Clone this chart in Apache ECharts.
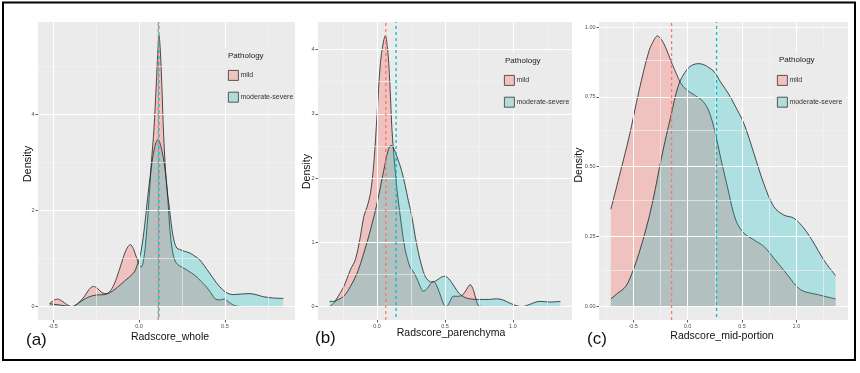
<!DOCTYPE html>
<html><head><meta charset="utf-8">
<script src="https://cdn.jsdelivr.net/npm/echarts@6/dist/echarts.min.js"></script>
<style>html,body{margin:0;padding:0;background:#fff}#c{width:860px;height:373px}</style>
</head><body><div id="c"></div>
<script>
// ---------- data ----------
const groupNames = ['mild', 'moderate-severe'];
const panelLetters = ['(a)', '(b)', '(c)'];
const xTitles = ['Radscore_whole', 'Radscore_parenchyma', 'Radscore_mid-portion'];

// (a) Radscore_whole
const aMild = [[-0.52,0.06],[-0.50,0.12],[-0.475,0.155],[-0.45,0.12],[-0.42,0.04],[-0.39,0.0],[-0.36,0.05],[-0.32,0.2],[-0.29,0.36],[-0.265,0.42],[-0.24,0.37],[-0.215,0.29],[-0.19,0.27],[-0.16,0.36],[-0.13,0.6],[-0.10,0.93],[-0.075,1.18],[-0.05,1.29],[-0.03,1.18],[-0.01,0.97],[0.012,0.82],[0.03,1.05],[0.045,1.6],[0.058,2.23],[0.072,3.0],[0.087,3.7],[0.10,4.6],[0.11,5.35],[0.116,5.65],[0.123,5.4],[0.133,4.6],[0.143,3.6],[0.155,2.8],[0.168,2.23],[0.18,1.6],[0.195,1.15],[0.21,0.95],[0.226,0.875],[0.25,0.82],[0.275,0.77],[0.305,0.70],[0.332,0.63],[0.36,0.53],[0.39,0.42],[0.42,0.28],[0.448,0.15],[0.475,0.14],[0.497,0.16],[0.52,0.1],[0.545,0.04],[0.565,0.01],[0.6,0],[0.7,0],[0.84,0]];
const aTeal = [[-0.52,0.06],[-0.50,0.05],[-0.46,0.03],[-0.42,0.01],[-0.39,0.0],[-0.35,0.08],[-0.30,0.19],[-0.25,0.24],[-0.20,0.25],[-0.17,0.29],[-0.14,0.36],[-0.11,0.45],[-0.085,0.53],[-0.055,0.62],[-0.027,0.72],[-0.012,0.85],[0.0,0.98],[0.012,1.15],[0.03,1.6],[0.049,2.23],[0.07,2.85],[0.09,3.3],[0.11,3.48],[0.13,3.3],[0.15,2.9],[0.168,2.3],[0.178,2.02],[0.192,1.6],[0.207,1.33],[0.22,1.22],[0.236,1.19],[0.265,1.15],[0.294,1.12],[0.325,1.05],[0.352,0.98],[0.38,0.85],[0.41,0.70],[0.45,0.5],[0.487,0.35],[0.515,0.28],[0.545,0.25],[0.59,0.26],[0.641,0.27],[0.68,0.25],[0.718,0.21],[0.776,0.18],[0.84,0.17]];
const aMeans = [0.112, 0.116];
const aXTicks = [-0.5, 0, 0.5], aXMinor = [-0.25, 0.25, 0.75];
const aYTicks = [0, 2, 4], aYMinor = [1, 3, 5];

// (b) Radscore_parenchyma
const bMild = [[-0.35,0.0],[-0.32,0.05],[-0.295,0.13],[-0.245,0.31],[-0.197,0.57],[-0.16,0.73],[-0.123,1.09],[-0.098,1.40],[-0.074,1.55],[-0.049,1.76],[-0.024,2.23],[0.0,3.0],[0.024,3.78],[0.045,4.1],[0.061,4.22],[0.075,4.05],[0.086,3.78],[0.1,3.2],[0.11,2.74],[0.128,2.25],[0.147,1.81],[0.165,1.5],[0.184,1.19],[0.205,0.9],[0.225,0.73],[0.245,0.6],[0.265,0.55],[0.29,0.45],[0.31,0.35],[0.34,0.24],[0.37,0.28],[0.395,0.36],[0.415,0.39],[0.44,0.32],[0.47,0.15],[0.49,0.04],[0.51,0.0],[0.535,0.07],[0.562,0.16],[0.60,0.16],[0.63,0.18],[0.66,0.27],[0.685,0.34],[0.71,0.25],[0.73,0.1],[0.75,0.01],[0.8,0],[1.35,0]];
const bTeal = [[-0.35,0.08],[-0.32,0.08],[-0.295,0.1],[-0.245,0.16],[-0.197,0.31],[-0.147,0.52],[-0.098,0.83],[-0.049,1.19],[0.0,1.61],[0.049,2.12],[0.08,2.42],[0.103,2.51],[0.125,2.45],[0.147,2.33],[0.18,2.12],[0.205,1.9],[0.23,1.65],[0.256,1.4],[0.28,1.1],[0.305,0.83],[0.33,0.62],[0.354,0.47],[0.38,0.4],[0.405,0.38],[0.44,0.41],[0.475,0.46],[0.50,0.47],[0.525,0.44],[0.55,0.37],[0.575,0.29],[0.605,0.2],[0.637,0.15],[0.68,0.12],[0.747,0.11],[0.82,0.11],[0.88,0.12],[0.93,0.1],[0.98,0.05],[1.03,0.01],[1.07,0.0],[1.12,0.03],[1.17,0.07],[1.2,0.08],[1.27,0.07],[1.35,0.08]];
const bMeans = [0.064, 0.14];
const bXTicks = [0, 0.5, 1], bXMinor = [-0.25, 0.25, 0.75, 1.25];
const bYTicks = [0, 1, 2, 3, 4], bYMinor = [0.5, 1.5, 2.5, 3.5];

// (c) Radscore_mid-portion
const cMild = [[-0.705,0.348],[-0.629,0.464],[-0.538,0.606],[-0.446,0.772],[-0.354,0.915],[-0.30,0.96],[-0.278,0.968],[-0.24,0.955],[-0.201,0.926],[-0.141,0.867],[-0.1,0.83],[-0.064,0.80],[-0.018,0.778],[0.03,0.765],[0.073,0.754],[0.134,0.737],[0.195,0.70],[0.256,0.618],[0.305,0.53],[0.366,0.428],[0.442,0.31],[0.518,0.262],[0.61,0.238],[0.70,0.215],[0.793,0.173],[0.916,0.114],[1.037,0.06],[1.19,0.043],[1.36,0.027]];
const cTeal = [[-0.705,0.027],[-0.65,0.045],[-0.568,0.072],[-0.50,0.13],[-0.446,0.191],[-0.38,0.28],[-0.324,0.369],[-0.232,0.547],[-0.156,0.677],[-0.08,0.796],[-0.003,0.849],[0.05,0.865],[0.103,0.869],[0.15,0.865],[0.195,0.855],[0.245,0.84],[0.305,0.802],[0.378,0.76],[0.427,0.725],[0.518,0.654],[0.61,0.547],[0.70,0.44],[0.793,0.357],[0.885,0.327],[0.976,0.316],[1.068,0.28],[1.16,0.227],[1.25,0.167],[1.36,0.11]];
const cMeans = [-0.147, 0.266];
const cXTicks = [-0.5, 0, 0.5, 1], cXMinor = [-0.75, -0.25, 0.25, 0.75, 1.25];
const cYTicks = [0, 0.25, 0.5, 0.75, 1], cYMinor = [0.125, 0.375, 0.625, 0.875];

// ---------- layout / style ----------
const panels = [
  {mild:aMild, teal:aTeal, means:aMeans, xr:[-0.588,0.908], yr:[-0.28,5.93], xt:aXTicks, xm:aXMinor, yt:aYTicks, ym:aYMinor, xd:1, yd:0,
   grid:{left:38, top:22, width:257, height:298}, leg:[228,70], path:[228,57], legBox:[225,48,70,57], letter:[26,340], xt_pos:[170,337], yt_pos:[28,164], ytSize:11},
  {mild:bMild, teal:bTeal, means:bMeans, xr:[-0.435,1.435], yr:[-0.21,4.43], xt:bXTicks, xm:bXMinor, yt:bYTicks, ym:bYMinor, xd:1, yd:0,
   grid:{left:318, top:22, width:254, height:298}, leg:[504,75], path:[505,62], legBox:[501,53,71,57], letter:[315,338], xt_pos:[451,333.5], yt_pos:[307.5,171.5], ytSize:10.5},
  {mild:cMild, teal:cTeal, means:cMeans, xr:[-0.814,1.474], yr:[-0.0485,1.018], xt:cXTicks, xm:cXMinor, yt:cYTicks, ym:cYMinor, xd:1, yd:2,
   grid:{left:599, top:22, width:249, height:298}, leg:[777,75], path:[779,61], legBox:[774,52,72,57], letter:[587,339], xt_pos:[722,336], yt_pos:[579.5,165], ytSize:10.5}
];
const MILD = '#F8766D', TEAL = '#00BFC4';
const mildFill = 'rgba(248,118,109,0.35)', tealFill = 'rgba(0,191,196,0.26)';
const mildKey = '#F0C3BE', tealKey = '#B0DCDC';
const FONT = 'Liberation Sans, Arial, sans-serif';
const majorGrid = {color:'#FFFFFF', width:1, type:'solid'};
const minorGrid = {color:'#F5F5F5', width:0.6, type:'solid'};

const grid = [], xAxis = [], yAxis = [], series = [], legend = [], graphic = [];
panels.forEach((p, i) => {
  grid.push(Object.assign({show:true, backgroundColor:'#EBEBEB', borderWidth:0}, p.grid));
  const common = {type:'value', gridIndex:i, axisLine:{show:false, onZero:false}, splitLine:{show:false}};
  xAxis.push(Object.assign({}, common, {min:p.xr[0], max:p.xr[1], position:'bottom',
    axisTick:{show:true, length:2.5, lineStyle:{color:'#333', width:0.8}, customValues:p.xt},
    axisLabel:{customValues:p.xt, formatter:v => Number(v).toFixed(p.xd), fontSize:5.5, color:'#4D4D4D', margin:3.5, fontFamily:FONT}}));
  yAxis.push(Object.assign({}, common, {min:p.yr[0], max:p.yr[1], position:'left',
    axisTick:{show:true, length:2.5, lineStyle:{color:'#333', width:0.8}, customValues:p.yt},
    axisLabel:{customValues:p.yt, formatter:v => Number(v).toFixed(p.yd), fontSize:5.5, color:'#4D4D4D', margin:3.5, fontFamily:FONT}}));

  // panel grid lines, placed through the axes' own scales
  const gridData = [].concat(
    p.xm.map(v => ({xAxis:v, lineStyle:minorGrid})),
    p.ym.map(v => ({yAxis:v, lineStyle:minorGrid})),
    p.xt.map(v => ({xAxis:v, lineStyle:majorGrid})),
    p.yt.map(v => ({yAxis:v, lineStyle:majorGrid})));
  series.push({type:'line', name:'grid' + i, xAxisIndex:i, yAxisIndex:i, data:[], z:1, silent:true, color:'#FFFFFF',
    markLine:{silent:true, symbol:['none','none'], label:{show:false}, animation:false, data:gridData}});

  series.push({type:'line', name:groupNames[0], xAxisIndex:i, yAxisIndex:i, data:p.mild, smooth:0.35,
    showSymbol:false, symbol:'none', z:2, lineStyle:{color:'#222', width:0.8},
    itemStyle:{color:mildKey}, areaStyle:{color:mildFill, opacity:1}});
  series.push({type:'line', name:groupNames[1], xAxisIndex:i, yAxisIndex:i, data:p.teal, smooth:0.35,
    showSymbol:false, symbol:'none', z:3, lineStyle:{color:'#222', width:0.8},
    itemStyle:{color:tealKey}, areaStyle:{color:tealFill, opacity:1}});

  // group means as dashed vertical lines spanning the panel's y range
  [MILD, TEAL].forEach((col, k) => {
    series.push({type:'line', name:'mean' + i + '_' + k, xAxisIndex:i, yAxisIndex:i, z:10 + k, silent:true,
      data:[[p.means[k], p.yr[0]], [p.means[k], p.yr[1]]], showSymbol:false, symbol:'none',
      color:col, lineStyle:{color:col, type:[3,3], dashOffset:k * 3, width:1.3, opacity:1}});
  });

  legend.push({left:p.leg[0], top:p.leg[1], orient:'vertical', padding:0, itemWidth:10, itemHeight:10, itemGap:11,
    icon:'rect', selectedMode:false, z:30,
    textStyle:{fontSize:7, color:'#333', fontFamily:FONT, padding:[0,0,0,-3]},
    data:[{name:groupNames[0], itemStyle:{color:mildKey, borderColor:'#333', borderWidth:0.8}},
          {name:groupNames[1], itemStyle:{color:tealKey, borderColor:'#333', borderWidth:0.8}}]});

  graphic.push({type:'rect', z:25, silent:true, shape:{x:p.legBox[0], y:p.legBox[1], width:p.legBox[2], height:p.legBox[3]}, style:{fill:'#EBEBEB'}});
  graphic.push({type:'text', z:31, left:p.path[0], top:p.path[1]-5, style:{text:'Pathology', fill:'#222', font:'8px ' + FONT}});
  graphic.push({type:'text', z:31, x:p.xt_pos[0], y:p.xt_pos[1], style:{text:xTitles[i], fill:'#111', font:'10.5px ' + FONT, textAlign:'center', textVerticalAlign:'middle'}});
  graphic.push({type:'text', z:31, x:p.yt_pos[0], y:p.yt_pos[1], rotation:Math.PI/2, style:{text:'Density', fill:'#111', font:p.ytSize + 'px ' + FONT, textAlign:'center', textVerticalAlign:'middle'}});
  graphic.push({type:'text', z:31, x:p.letter[0], y:p.letter[1], style:{text:panelLetters[i], fill:'#111', font:'17px ' + FONT, textAlign:'left', textVerticalAlign:'middle'}});
});
graphic.push({type:'rect', z:100, shape:{x:3, y:2.5, width:852, height:357.5}, style:{fill:'none', stroke:'#000', lineWidth:2}});

const chart = echarts.init(document.getElementById('c'), null, {renderer:'canvas'});
chart.setOption({animation:false, backgroundColor:'#fff', grid, xAxis, yAxis, series, legend, graphic});
</script></body></html>
